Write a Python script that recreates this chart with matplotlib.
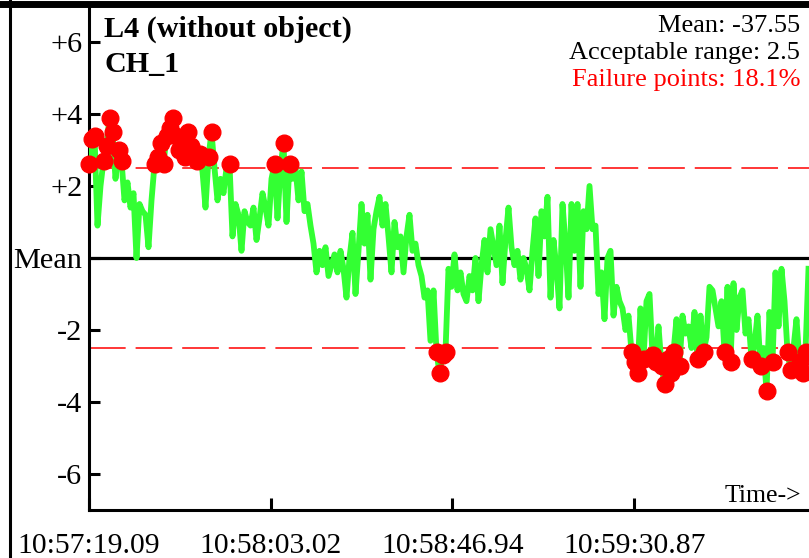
import numpy as np
import matplotlib.pyplot as plt
from matplotlib.lines import Line2D

plt.rcParams['font.family'] = ['Liberation Serif', 'DejaVu Serif']

# deviation from the mean (one reading every ~0.72 s)
deviation = [
    2.6, 3.3, 3.4, 0.9, 2.0, 2.7, 3.1, 3.9, 3.5, 2.2,
    3.0, 2.7, 1.6, 2.1, 1.4, 1.8, 0.0, 1.5, 1.3, 1.2,
    0.3, 1.6, 2.6, 2.8, 3.2, 2.6, 3.4, 3.6, 3.9, 3.4,
    3.0, 3.3, 2.8, 3.5, 3.1, 2.9, 2.7, 2.9, 2.4, 1.4,
    2.8, 3.5, 2.5, 1.6, 2.2, 1.8, 2.5, 2.6, 0.6, 1.5,
    1.2, 0.2, 1.3, 1.0, 0.9, 1.4, 0.5, 1.1, 1.8, 1.4,
    0.9, 2.2, 2.6, 1.1, 2.5, 3.2, 1.0, 2.6, 2.2, 2.5,
    1.6, 2.4, 1.3, 1.5, 0.9, 0.4, -0.4, 0.2, -0.2, 0.3,
    -0.5, -0.2, 0.1, -0.4, 0.2, -0.3, -1.1, 0.0, 0.7, -1.0,
    0.2, 1.5, 0.4, 1.2, -0.6, 0.8, 1.3, 1.7, 0.9, 1.5,
    0.6, -0.4, 1.0, 0.3, 0.6, -0.4, 0.6, 1.2, 0.2, 0.4,
    -0.2, -0.5, -1.1, -0.9, -2.3, -0.9, -2.6, -3.2, -2.7, -2.6,
    -0.3, -0.8, 0.1, -0.9, -0.4, -1.0, -1.2, -0.5, -0.9, 0.0,
    -1.2, -0.2, 0.5, -0.4, 0.8, 0.3, -0.2, 0.9, -0.7, 0.5,
    1.4, 0.3, -0.2, 0.2, -0.6, 0.0, -0.3, -0.9, 0.2, 1.1,
    -0.5, 1.3, 0.6, 1.7, -1.1, 0.5, -0.3, -1.4, 1.5, 0.4,
    -1.1, 1.5, 0.2, 1.5, -0.8, 1.3, 0.8, 2.0, 0.8, 0.9,
    -1.0, -0.4, -1.7, 0.0, 0.2, -1.6, -0.8, -1.2, -1.4, -2.0,
    -1.6, -2.6, -2.9, -3.2, -1.4, -2.8, -1.2, -1.0, -2.7, -2.9,
    -1.9, -3.0, -3.5, -2.8, -3.2, -2.6, -1.7, -3.0, -1.6, -2.1,
    -1.9, -2.5, -1.5, -2.8, -1.6, -2.6, -2.2, -0.8, -0.9, -1.4,
    -1.9, -1.2, -2.6, -0.8, -2.9, -0.7, -2.0, -1.1, -0.9, -2.1,
    -1.7, -2.8, -2.4, -1.6, -3.0, -2.5, -3.7, -1.5, -2.9, -0.4,
    -1.9, -0.3, -1.2, -2.6, -3.1, -2.5, -1.7, -2.9, -3.2, -2.6,
    -0.3,
]

acceptable = 2.5
tick_seconds = [0.0, 43.93, 87.85, 131.78]
tick_labels = ['10:57:19.09', '10:58:03.02', '10:58:46.94', '10:59:30.87']
y_ticks = [6, 4, 2, 0, -2, -4, -6]
y_labels = ['+6', '+4', '+2', 'Mean', '-2', '-4', '-6']

W, H = 809, 558
px_per_sec = 182 / 43.93
sample_dt = 3 / px_per_sec

v = np.array(deviation)
t = np.arange(len(v)) * sample_dt
fail = np.abs(v) > acceptable

fig = plt.figure(figsize=(W / 100, H / 100), dpi=100)
ax = fig.add_axes([88.5 / W, (H - 510) / H, (W - 88.5) / W, 504 / H])
ax.set_xlim(0, (W - 88.5) / px_per_sec)
ax.set_ylim(-7, 7)

for s in ['top', 'right']:
    ax.spines[s].set_visible(False)
for s in ['left', 'bottom']:
    ax.spines[s].set_linewidth(2.2)

ax.axhline(0, color='black', lw=2.3, zorder=1)
ax.axhline(acceptable, color='red', lw=1.1, dashes=(24, 6.5), zorder=1.5)
ax.axhline(-acceptable, color='red', lw=1.1, dashes=(24, 6.5), zorder=1.5)

ax.plot(t, v, color='#33ff33', lw=4.2, zorder=3, solid_joinstyle='round')
ax.plot(t[fail], v[fail], 'o', color='red', ms=12, mec='red', zorder=4, clip_on=False)

ax.set_yticks(y_ticks)
ax.set_yticklabels(y_labels)
ax.set_xticks(tick_seconds)
ax.set_xticklabels(tick_labels)
ax.tick_params(axis='y', direction='in', length=8, width=2.2, labelsize=21.8, pad=4.5)
ax.tick_params(axis='x', direction='in', length=8.5, width=2.2, labelsize=21.3, pad=16.5)

# frame around the figure
fig.add_artist(Line2D([0, 1], [1 - 3.5 / H] * 2, transform=fig.transFigure, color='black', lw=5))
fig.add_artist(Line2D([9.5 / W] * 2, [0, 1], transform=fig.transFigure, color='black', lw=2.2))

fig.text(104 / W, 1 - 36.7 / H, 'L4 (without object)', fontsize=21.7, fontweight='bold', va='baseline')
fig.text(104 / W, 1 - 72 / H, 'CH_1', fontsize=21.7, fontweight='bold', va='baseline')
fig.text(800 / W, 1 - 32 / H, 'Mean: -37.55', fontsize=19, ha='right', va='baseline')
fig.text(800 / W, 1 - 59 / H, 'Acceptable range: 2.5', fontsize=19, ha='right', va='baseline')
fig.text(800 / W, 1 - 86 / H, 'Failure points: 18.1%', fontsize=19, ha='right', va='baseline', color='red')
fig.text(801 / W, 1 - 502 / H, 'Time->', fontsize=18.5, ha='right', va='baseline')

fig.savefig('out.png', dpi=100)
